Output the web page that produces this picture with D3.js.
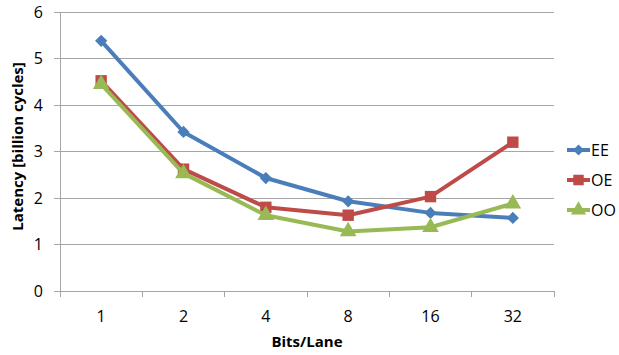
<!DOCTYPE html>
<html><head><meta charset="utf-8">
<script src="https://cdn.jsdelivr.net/npm/d3@7"></script>
<style>body{margin:0;background:#fff}svg{display:block}text{font-family:"Open Sans","Liberation Sans",sans-serif}</style>
</head><body><svg id="c" width="619" height="355"></svg>
<script>
const categories = ["1","2","4","8","16","32"];
const seriesNames = ["EE","OE","OO"];
const EE = [5.38, 3.42, 2.43, 1.93, 1.68, 1.57];
const OE = [4.52, 2.62, 1.80, 1.63, 2.03, 3.20];
const OO = [4.45, 2.53, 1.63, 1.28, 1.37, 1.88];
const yTicks = [0,1,2,3,4,5,6];
const colors = ["#4a7ebb","#be4b48","#98b954"];
const shapes = [d3.symbolSquare, d3.symbolSquare, d3.symbolTriangle];
const rot = [45, 0, 0];
const values = [EE, OE, OO];

const svg = d3.select("#c");
const L = 60, R = 554, T = 12, B = 291;
const x = d3.scaleBand().domain(categories).range([L, R]);
const y = d3.scaleLinear().domain([0, 6]).range([B, T]);

svg.append("g").selectAll("line").data(yTicks).join("line")
  .attr("x1", L - 6).attr("x2", R).attr("y1", d => y(d)).attr("y2", d => y(d))
  .attr("stroke", "#a6a6a6").attr("stroke-width", 1).attr("shape-rendering","crispEdges");
svg.append("line").attr("x1", L).attr("x2", L).attr("y1", T).attr("y2", B)
  .attr("stroke", "#a6a6a6").attr("shape-rendering","crispEdges");
svg.append("g").selectAll("text").data(yTicks).join("text")
  .attr("x", L - 17).attr("y", d => y(d)).attr("dy", "0.35em").attr("text-anchor", "end")
  .attr("font-size", 16).attr("fill", "#000").text(d => d);
const xb = categories.map(c => x(c)).concat([R]);
svg.append("g").selectAll("line").data(xb).join("line")
  .attr("x1", d => d).attr("x2", d => d).attr("y1", B).attr("y2", B + 6)
  .attr("stroke", "#a6a6a6").attr("shape-rendering","crispEdges");
svg.append("g").selectAll("text").data(categories).join("text")
  .attr("x", d => x(d) + x.bandwidth() / 2).attr("y", 316).attr("dy", "0.35em")
  .attr("text-anchor", "middle").attr("font-size", 16).text(d => d);
svg.append("text").attr("x", (L + R) / 2).attr("y", 342).attr("dy", "0.35em")
  .attr("text-anchor", "middle").attr("font-size", 15).attr("font-weight", "bold").text("Bits/Lane");
svg.append("text").attr("transform", `translate(18,${(T + B) / 2 - 5}) rotate(-90)`).attr("dy", "0.35em")
  .attr("text-anchor", "middle").attr("font-size", 15).attr("font-weight", "bold").text("Latency [billion cycles]");

const line = d3.line().x((d, i) => x(categories[i]) + x.bandwidth() / 2).y(d => y(d));
values.forEach((vals, s) => {
  const g = svg.append("g");
  g.append("path").datum(vals).attr("d", line).attr("fill", "none")
    .attr("stroke", colors[s]).attr("stroke-width", 4).attr("stroke-linejoin", "round");
  g.selectAll("path.m").data(vals).join("path").attr("class", "m")
    .attr("transform", (d, i) => `translate(${x(categories[i]) + x.bandwidth() / 2},${y(d)}) rotate(${rot[s]})`)
    .attr("d", d3.symbol().type(shapes[s]).size(s === 0 ? 75 : s === 1 ? 130 : 120))
    .attr("fill", colors[s]);
});

const ly = [150, 180, 210];
seriesNames.forEach((n, s) => {
  const g = svg.append("g");
  g.append("line").attr("x1", 567).attr("x2", 590).attr("y1", ly[s]).attr("y2", ly[s])
    .attr("stroke", colors[s]).attr("stroke-width", 4);
  g.append("path").attr("transform", `translate(578.5,${ly[s]}) rotate(${rot[s]})`)
    .attr("d", d3.symbol().type(shapes[s]).size(s === 0 ? 60 : s === 1 ? 110 : 100)).attr("fill", colors[s]);
  g.append("text").attr("x", 591).attr("y", ly[s]).attr("dy", "0.35em")
    .attr("font-size", 16).text(n);
});
</script></body></html>
